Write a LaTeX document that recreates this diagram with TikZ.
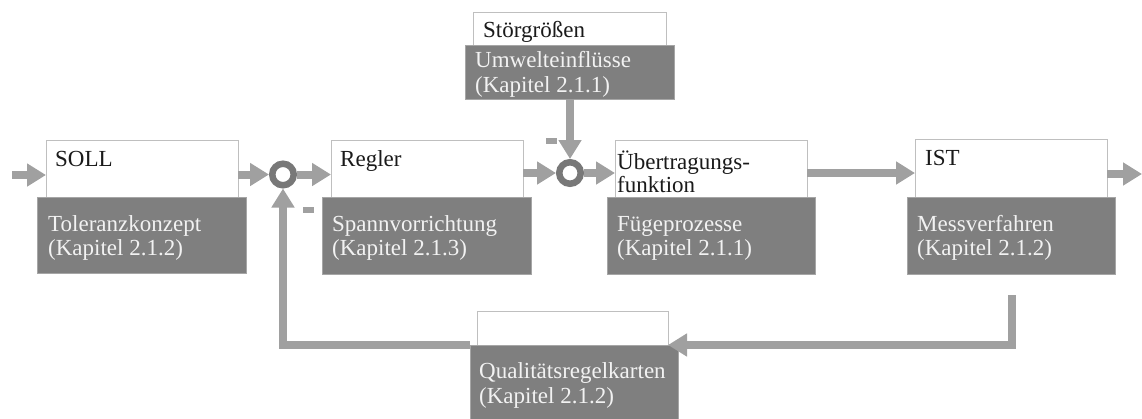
\documentclass[tikz,border=0pt]{standalone}
\usepackage{fontspec}
\setmainfont{Liberation Serif}
\usetikzlibrary{arrows.meta}
\definecolor{darkfill}{HTML}{7F7F7F}
\definecolor{darkline}{HTML}{A6A6A6}
\definecolor{wline}{HTML}{BFBFBF}
\definecolor{arrcol}{HTML}{A0A0A0}
\definecolor{ringcol}{HTML}{787878}
\definecolor{lighttext}{HTML}{F2F2F2}
\definecolor{darktext}{HTML}{1A1A1A}
\tikzset{
  wbox/.style={draw=wline, line width=1pt, fill=white, rectangle, anchor=north west, inner sep=0pt, outer sep=0pt},
  dbox/.style={draw=darkline, line width=1pt, fill=darkfill, rectangle, anchor=north west, inner sep=0pt, outer sep=0pt},
  wtxt/.style={anchor=base west, inner sep=0pt, text=darktext, font=\fontsize{23}{27}\selectfont},
  dtxt/.style={anchor=base west, inner sep=0pt, text=lighttext, font=\fontsize{23}{27}\selectfont},
  ring/.style={circle, draw=ringcol, line width=6.5pt, fill=white, minimum size=21.5pt, inner sep=0pt},
  arr/.style={draw=arrcol, line width=8pt, -{Triangle[length=19pt,width=22pt]}},
  minus/.style={fill=arrcol, rectangle, inner sep=0pt, minimum width=11pt, minimum height=6pt}
}
\begin{document}
\begin{tikzpicture}[x=1pt,y=-1pt]
\useasboundingbox (0,0) rectangle (1142,418);
% white boxes
\node[wbox, minimum width=192pt, minimum height=57pt] (soll) at (46,140) {};
\node[wbox, minimum width=192pt, minimum height=57pt] (regler) at (331,140) {};
\node[wbox, minimum width=192pt, minimum height=57pt] (ueb) at (615,140) {};
\node[wbox, minimum width=192pt, minimum height=58pt] (ist) at (915,139) {};
\node[wbox, minimum width=193pt, minimum height=33pt] (stoer) at (473,12) {};
\node[wbox, minimum width=191pt, minimum height=34pt] (qw) at (477,311) {};
% dark boxes
\node[dbox, minimum width=209pt, minimum height=76pt] (tol) at (37,197) {};
\node[dbox, minimum width=209pt, minimum height=77pt] (spann) at (322,197) {};
\node[dbox, minimum width=208pt, minimum height=77pt] (fuege) at (607,197) {};
\node[dbox, minimum width=208pt, minimum height=77pt] (mess) at (907,197) {};
\node[dbox, minimum width=209pt, minimum height=54pt] (umw) at (465,45) {};
\node[dbox, minimum width=208pt, minimum height=74pt] (qd) at (470,345) {};
% texts
\node[wtxt] (t1) at (55,166) {SOLL};
\node[wtxt] (t2) at (340,166) {Regler};
\node[wtxt] (t3) at (617,169) {Übertragungs-};
\node[wtxt] (t3b) at (617,192) {funktion};
\node[wtxt] (t4) at (925,165) {IST};
\node[wtxt] (t5) at (483,37) {Störgrößen};
\node[dtxt] (d1) at (48,231) {Toleranzkonzept};
\node[dtxt] (d1b) at (48,255) {(Kapitel 2.1.2)};
\node[dtxt] (d2) at (332,231) {Spannvorrichtung};
\node[dtxt] (d2b) at (332,255) {(Kapitel 2.1.3)};
\node[dtxt] (d3) at (617,231) {Fügeprozesse};
\node[dtxt] (d3b) at (617,255) {(Kapitel 2.1.1)};
\node[dtxt] (d4) at (917,231) {Messverfahren};
\node[dtxt] (d4b) at (917,255) {(Kapitel 2.1.2)};
\node[dtxt] (d5) at (475,67) {Umwelteinflüsse};
\node[dtxt] (d5b) at (475,92) {(Kapitel 2.1.1)};
\node[dtxt] (d6) at (479,378) {Qualitätsregelkarten};
\node[dtxt] (d6b) at (479,403) {(Kapitel 2.1.2)};
% summing points
\node[ring] (c1) at (283,174.5) {};
\node[ring] (c2) at (570,173) {};
% coordinates
\coordinate (inp) at (12,175);
\coordinate (outp) at (1142,174);
\coordinate (fbs) at (1012,295);
\coordinate (r1) at (0,173);
% connectors
\draw[arr] (inp) -- (inp -| soll.west);
\draw[arr] (soll.east |- c1) -- (c1.west);
\draw[arr] (c1.east) -- (c1 -| regler.west);
\draw[arr] (regler.east |- c2) -- (c2.west);
\draw[arr] (c2.east) -- (c2 -| ueb.west);
\draw[arr] (umw.south -| c2) -- (c2.north);
\draw[arr] (ueb.east |- r1) -- (ist.west |- r1);
\draw[arr] (ist.east |- outp) -- (outp);
\draw[arr] (qd.north west) -| (c1.south);
\draw[arr] (fbs) |- (qw.south east);
% minus signs
\node[minus] (m1) at (308.5,209.5) {};
\node[minus] (m2) at (551.5,141) {};
\end{tikzpicture}
\end{document}
